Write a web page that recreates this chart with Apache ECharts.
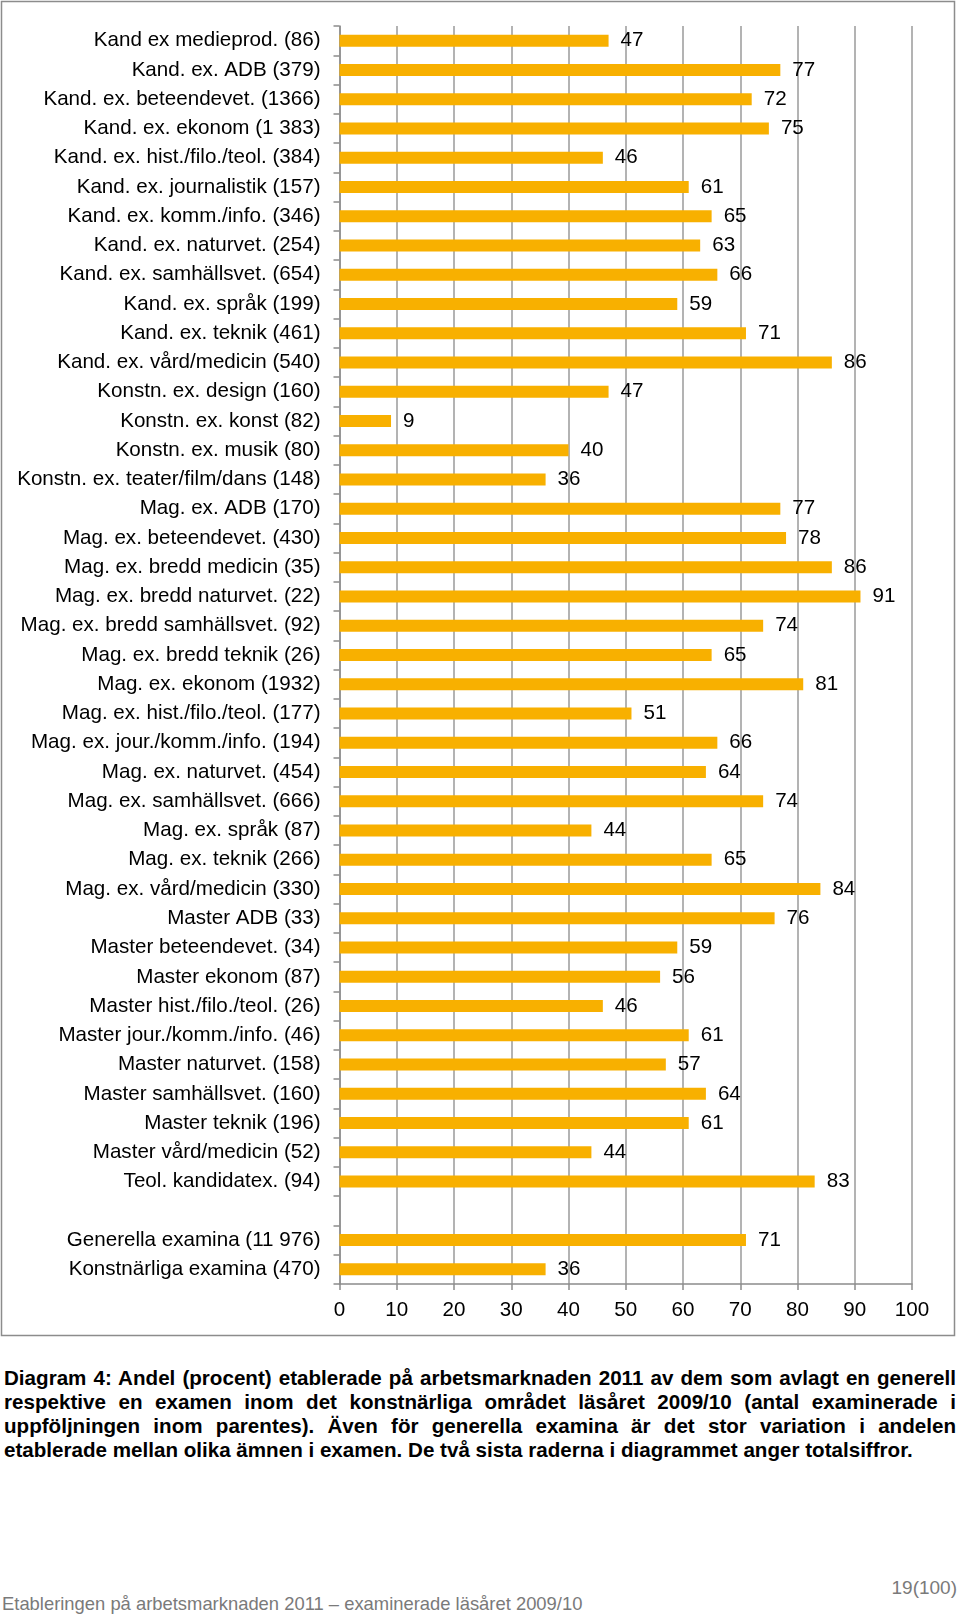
<!DOCTYPE html>
<html>
<head>
<meta charset="utf-8">
<script src="https://cdn.jsdelivr.net/npm/echarts@6/dist/echarts.min.js"></script>
<style>
  html, body { margin: 0; padding: 0; background: #fff; }
  #page { position: relative; width: 960px; height: 1615px; overflow: hidden; }
  #chart { position: absolute; left: 0; top: 0; width: 960px; height: 1340px; }
  .cap { position: absolute; left: 4px; width: 952px; font-family: "Liberation Sans", Arial, sans-serif; font-weight: bold; font-size: 20.6px; color: #000; }
  .cap div { height: 24px; line-height: 24px; text-align: justify; text-align-last: justify; white-space: nowrap; }
  .cap div.last { text-align: left; text-align-last: left; }
  #pnum { position: absolute; right: 3px; top: 1577px; font-family: "Liberation Sans", Arial, sans-serif; font-size: 19px; color: #7a7a7a; }
  #foot { position: absolute; left: 2px; top: 1593px; font-family: "Liberation Sans", Arial, sans-serif; font-size: 18.4px; color: #7a7a7a; white-space: nowrap; }
</style>
</head>
<body>
<div id="page">
  <div id="chart"></div>
  <div class="cap" style="top:1366px">
    <div>Diagram 4: Andel (procent) etablerade på arbetsmarknaden 2011 av dem som avlagt en generell</div>
    <div>respektive en examen inom det konstnärliga området läsåret 2009/10 (antal examinerade i</div>
    <div>uppföljningen inom parentes). Även för generella examina är det stor variation i andelen</div>
    <div class="last">etablerade mellan olika ämnen i examen. De två sista raderna i diagrammet anger totalsiffror.</div>
  </div>
  <div id="pnum">19(100)</div>
  <div id="foot">Etableringen på arbetsmarknaden 2011 – examinerade läsåret 2009/10</div>
</div>
<script>
const categories = [
  "Kand ex medieprod. (86)",
  "Kand. ex. ADB (379)",
  "Kand. ex. beteendevet. (1366)",
  "Kand. ex. ekonom (1 383)",
  "Kand. ex. hist./filo./teol. (384)",
  "Kand. ex. journalistik (157)",
  "Kand. ex. komm./info. (346)",
  "Kand. ex. naturvet. (254)",
  "Kand. ex. samhällsvet. (654)",
  "Kand. ex. språk (199)",
  "Kand. ex. teknik (461)",
  "Kand. ex. vård/medicin (540)",
  "Konstn. ex. design (160)",
  "Konstn. ex. konst (82)",
  "Konstn. ex. musik (80)",
  "Konstn. ex. teater/film/dans (148)",
  "Mag. ex. ADB (170)",
  "Mag. ex. beteendevet. (430)",
  "Mag. ex. bredd medicin (35)",
  "Mag. ex. bredd naturvet. (22)",
  "Mag. ex. bredd samhällsvet. (92)",
  "Mag. ex. bredd teknik (26)",
  "Mag. ex. ekonom (1932)",
  "Mag. ex. hist./filo./teol. (177)",
  "Mag. ex. jour./komm./info. (194)",
  "Mag. ex. naturvet. (454)",
  "Mag. ex. samhällsvet. (666)",
  "Mag. ex. språk (87)",
  "Mag. ex. teknik (266)",
  "Mag. ex. vård/medicin (330)",
  "Master ADB (33)",
  "Master beteendevet. (34)",
  "Master ekonom (87)",
  "Master hist./filo./teol. (26)",
  "Master jour./komm./info. (46)",
  "Master naturvet. (158)",
  "Master samhällsvet. (160)",
  "Master teknik (196)",
  "Master vård/medicin (52)",
  "Teol. kandidatex. (94)",
  "",
  "Generella examina (11 976)",
  "Konstnärliga examina (470)"
];
const values = [
  47, 77, 72, 75, 46, 61, 65, 63, 66, 59, 71, 86,
  47, 9, 40, 36,
  77, 78, 86, 91, 74, 65, 81, 51, 66, 64, 74, 44, 65, 84,
  76, 59, 56, 46, 61, 57, 64, 61, 44,
  83,
  null,
  71, 36
];
const xTicks = [0, 10, 20, 30, 40, 50, 60, 70, 80, 90, 100];

const FONT = '"Liberation Sans", Arial, sans-serif';
const chart = echarts.init(document.getElementById('chart'), null, { renderer: 'canvas' });
chart.setOption({
  animation: false,
  backgroundColor: '#fff',
  graphic: [{
    type: 'rect',
    shape: { x: 1.5, y: 1.5, width: 953, height: 1334 },
    style: { fill: 'none', stroke: '#8c8c8c', lineWidth: 1.5 },
    silent: true
  }],
  grid: { left: 339.5, right: 48, top: 26, height: 1258, containLabel: false },
  xAxis: {
    type: 'value',
    min: xTicks[0],
    max: xTicks[xTicks.length - 1],
    interval: 10,
    axisLine: { show: true, lineStyle: { color: '#8c8c8c', width: 1.5 } },
    axisTick: { show: true, length: 6, lineStyle: { color: '#8c8c8c', width: 1.5 } },
    splitLine: { show: true, lineStyle: { color: '#9a9a9a', width: 1.5 } },
    axisLabel: { color: '#000', fontFamily: FONT, fontSize: 20.6, margin: 16 }
  },
  yAxis: {
    type: 'category',
    inverse: true,
    data: categories,
    axisLine: { show: true, lineStyle: { color: '#8c8c8c', width: 1.5 } },
    axisTick: { show: true, length: 6, lineStyle: { color: '#8c8c8c', width: 1.5 } },
    axisLabel: { color: '#000', fontFamily: FONT, fontSize: 20.6, margin: 19, interval: 0, padding: [4, 0, 0, 0] }
  },
  series: [{
    type: 'bar',
    data: values,
    barWidth: 12,
    itemStyle: { color: '#F8B000' },
    label: {
      show: true,
      position: 'right',
      distance: 12,
      color: '#000',
      fontFamily: FONT,
      fontSize: 20.6,
      padding: [4, 0, 0, 0],
      formatter: p => (p.value == null ? '' : String(p.value))
    }
  }]
});
</script>
</body>
</html>
